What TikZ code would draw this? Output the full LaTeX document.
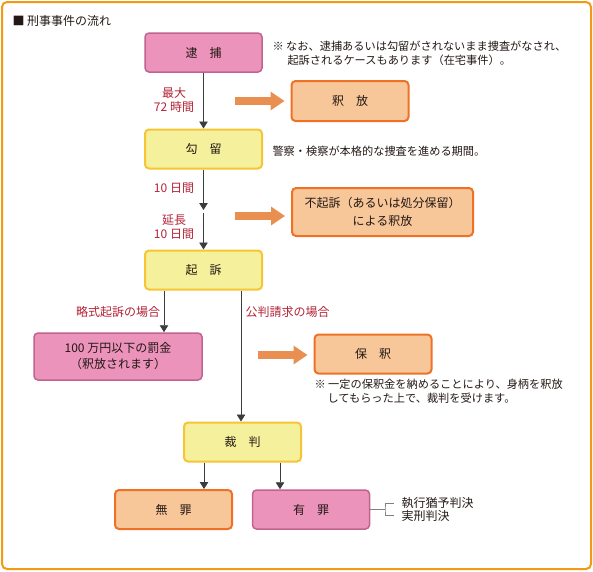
\documentclass[tikz,border=0pt]{standalone}
\usepackage{fontspec}
\setmainfont{Noto Sans CJK JP}
\usepackage{xcolor}
\usepackage{tikz}
\usetikzlibrary{arrows.meta,shapes}

\begin{document}
\begin{tikzpicture}[x=1pt,y=-1pt,>={Triangle[width=8.5pt,length=7pt]}]
    \definecolor{mypink}{RGB}{236,147,187}
    \definecolor{mypinkd}{RGB}{192,100,143}
    \definecolor{myyellow}{RGB}{245,240,155}
    \definecolor{myyellowd}{RGB}{245,197,54}
    \definecolor{myorange}{RGB}{247,199,154}
    \definecolor{myoranged}{RGB}{238,113,38}
    \definecolor{myarrow}{RGB}{234,143,82}
    \definecolor{myframe}{RGB}{242,154,20}
    \definecolor{myred}{RGB}{178,34,52}
    \definecolor{myline}{RGB}{60,60,60}
    \definecolor{mytext}{RGB}{35,24,21}

    \tikzstyle{format}=[rectangle,rounded corners=4pt,draw,line width=1.5pt,minimum width=117pt,minimum height=39pt,align=center,text=mytext,font=\fontsize{12pt}{16pt}\selectfont]  % 箱の基本形
    \tikzstyle{pinkbox}=[format,fill=mypink,draw=mypinkd]  % 逮捕・罰金・有罪
    \tikzstyle{yellowbox}=[format,fill=myyellow,draw=myyellowd,line width=2pt]  % 手続きの流れ
    \tikzstyle{orangebox}=[format,fill=myorange,draw=myoranged,line width=2pt]  % 釈放など
    \tikzstyle{redtext}=[text=myred,align=center,font=\fontsize{12pt}{14pt}\selectfont]  % 赤い説明
    \tikzstyle{note}=[anchor=west,align=left,text=mytext,font=\fontsize{11.2pt}{14pt}\selectfont]  % 注記
    \tikzstyle{bigarrow}=[-{Triangle[width=18pt,length=14pt]},line width=8pt,draw=myarrow,shorten >=6pt]  % 太い矢印
    \tikzstyle{conn}=[draw=myline,line width=0.9pt]  % 細い線

    \useasboundingbox (0,0) rectangle (593,571);
    \draw[myframe,line width=2pt,rounded corners=5pt] (2,2) rectangle (591,569);

    % 見出し
    \node[anchor=west,text=mytext,font=\fontsize{12pt}{14pt}\selectfont] (title) at (9,20.5) {■ 刑事事件の流れ};

    % 箱
    \node[pinkbox](taiho) at (203.5,52.5) {逮　捕};
    \node[yellowbox,below of=taiho,node distance=96.5pt](koryu){勾　留};
    \node[yellowbox,below of=koryu,node distance=121pt](kiso){起　訴};
    \node[orangebox,minimum height=40pt](shaku1) at (350,101) {釈　放};
    \node[orangebox,minimum width=181pt,minimum height=48pt](fukiso) at (382.5,212) {不起訴（あるいは処分保留）\\[2pt]による釈放};
    \node[pinkbox,minimum width=168pt,minimum height=47pt](bakkin) at (118,356.5) {100 万円以下の罰金\\（釈放されます）};
    \node[orangebox](hoshaku) at (373,354) {保　釈};
    \node[yellowbox](saiban) at (242.5,442) {裁　判};
    \node[orangebox](muzai) at (173.5,509.5) {無　罪};
    \node[pinkbox](yuzai) at (311,509.5) {有　罪};

    % 注記
    \node[note](note1) at (269,53) {※ なお、逮捕あるいは勾留がされないまま捜査がなされ、\\\hspace*{15pt}起訴されるケースもあります（在宅事件）。};
    \node[note](note2) at (269,151) {警察・検察が本格的な捜査を進める期間。};
    \node[note](note3) at (311,391) {※ 一定の保釈金を納めることにより、身柄を釈放\\\hspace*{13pt}してもらった上で、裁判を受けます。};
    \node[note,font=\fontsize{12pt}{14pt}\selectfont](shikko) at (398,503) {執行猶予判決};
    \node[note,font=\fontsize{12pt}{14pt}\selectfont](jikkei) at (398,515.5) {実刑判決};

    % 期間など
    \node[redtext](t72) at (174,100) {最大\\72 時間};
    \node[redtext](t10) at (174,188) {10 日間};
    \node[redtext](tent) at (174,227) {延長\\10 日間};
    \node[redtext](tryaku) at (118,311.5) {略式起訴の場合};
    \node[redtext,anchor=west](tkohan) at (242,311.5) {公判請求の場合};

    % 線を描く
    \coordinate (mid) at (203.5,210);
    \draw[conn,->](taiho)--(koryu);
    \draw[conn,->](koryu)--(mid);
    \draw[conn,->]([yshift=-3pt]mid)--(kiso);
    \draw[conn,->]([xshift=-39.5pt]kiso.south)--([xshift=-39.5pt]kiso.south |- bakkin.north);
    \draw[conn,->]([xshift=37.5pt]kiso.south)--([xshift=37.5pt]kiso.south |- saiban.north);
    \draw[conn,->]([xshift=-38.5pt]saiban.south)--([xshift=-38.5pt]saiban.south |- muzai.north);
    \draw[conn,->]([xshift=37.5pt]saiban.south)--([xshift=37.5pt]saiban.south |- yuzai.north);

    % 太い矢印
    \coordinate (a1) at (235,101);
    \coordinate (a2) at (235,216);
    \coordinate (a3) at (258,355);
    \draw[bigarrow](a1)--(a1 -| shaku1.west);
    \draw[bigarrow](a2)--(a2 -| fukiso.west);
    \draw[bigarrow](a3)--(a3 -| hoshaku.west);

    % 有罪の分かれ
    \coordinate (br) at (385,509.5);
    \draw[draw=gray,line width=1pt](yuzai.east)--(br);
    \draw[draw=gray,line width=1pt]([xshift=-4pt]shikko.west)-|(br)|-([xshift=-4pt]jikkei.west);
\end{tikzpicture}
\end{document}
